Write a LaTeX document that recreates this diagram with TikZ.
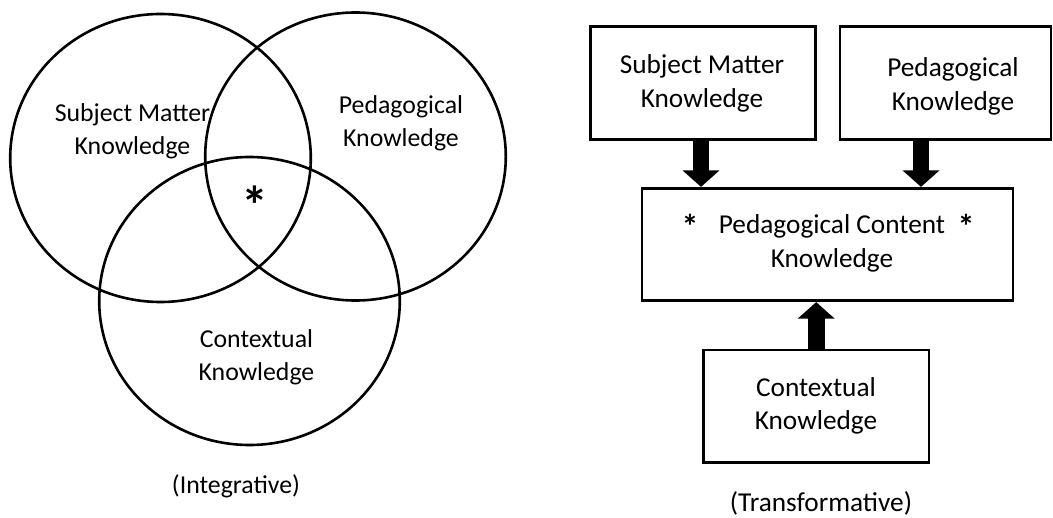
\documentclass[tikz,border=0pt]{standalone}
\usepackage{fontspec}
\setmainfont{Carlito}
\usetikzlibrary{shapes.geometric,arrows.meta}
\begin{document}
\begin{tikzpicture}[x=1pt,y=-1pt,
  venn/.style={draw, ellipse, line width=2.6pt, inner sep=0pt, minimum width=300.6pt, minimum height=288pt},
  vtext/.style={align=center, inner sep=0pt, font=\fontsize{25.8}{33}\selectfont},
  kbox/.style={draw, line width=2.8pt, inner sep=0pt},
  btext/.style={align=center, inner sep=0pt, font=\fontsize{27.3}{33.3}\selectfont},
  startext/.style={inner sep=0pt, anchor=base, font=\fontsize{34}{34}\selectfont\bfseries},
  blockarrow/.style={line width=16.7pt, -{Triangle[width=36pt,length=16.5pt]}}
]
\useasboundingbox (0,0) rectangle (1053,518);
% Integrative (Venn)
\node[venn] (vsmk) at (160.5,158) {};
\node[venn] (vpk) at (355.5,156.5) {};
\node[venn] (vck) at (249.5,301) {};
\node[vtext] (tsmk) at (132.5,131.5) {Subject Matter\\Knowledge};
\node[vtext] (tpk) at (401,123) {Pedagogical\\Knowledge};
\node[vtext] (tck) at (256.5,357.5) {Contextual\\Knowledge};
\node[inner sep=0pt, anchor=base, font=\fontsize{54}{54}\selectfont\bfseries] (star) at (255,225) {*};
\node[vtext] (integ) at (236,486) {(Integrative)};
% Transformative (boxes)
\node[kbox, minimum width=225pt, minimum height=112.6pt] (bsmk) at (703.2,83) {};
\node[btext] (btsmk) at (702,83.5) {Subject Matter\\Knowledge};
\node[kbox, minimum width=211pt, minimum height=113pt] (bpk) at (945.5,82.7) {};
\node[btext] (btpk) at (953,86.5) {Pedagogical\\Knowledge};
\node[kbox, minimum width=371pt, minimum height=112.4pt] (bpck) at (827.5,244.5) {};
\node[btext] (btpck) at (832,243.5) {Pedagogical Content\\Knowledge};
\node[startext] (s1) at (690,239) {*};
\node[startext] (s2) at (966,239) {*};
\node[kbox, minimum width=225.7pt, minimum height=112.7pt] (bck) at (816.2,406.3) {};
\node[btext] (btck) at (816,406) {Contextual\\Knowledge};
\node[vtext, font=\fontsize{27.3}{33}\selectfont] (transf) at (821,503) {(Transformative)};
% arrows
\coordinate (a1) at (701,0);
\coordinate (a2) at (921,0);
\draw[blockarrow] (bsmk.south -| a1) -- (bpck.north -| a1);
\draw[blockarrow] (bpk.south -| a2) -- (bpck.north -| a2);
\draw[blockarrow] (bck.north) -- (bck.north |- bpck.south);
\end{tikzpicture}
\end{document}
